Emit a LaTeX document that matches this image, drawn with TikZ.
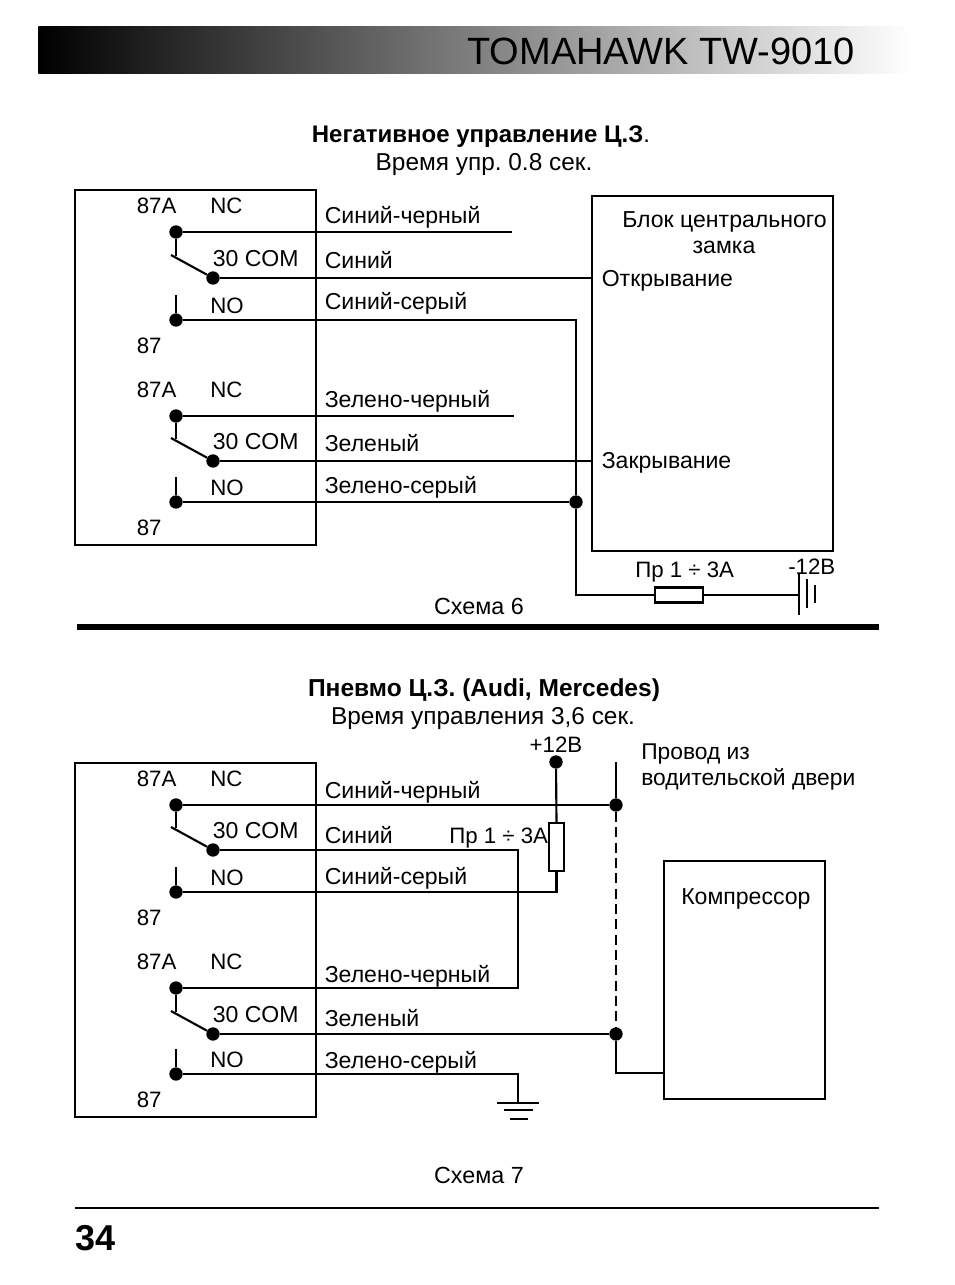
\documentclass[tikz,border=0pt]{standalone}
\usepackage{fontspec}
\setmainfont{Liberation Sans}
\frenchspacing
\begin{document}
\begin{tikzpicture}[x=0.75pt,y=-0.75pt,line cap=butt,
  wire/.style={line width=1.6pt},
  thin wire/.style={line width=1.1pt},
  box/.style={draw,line width=1.6pt,rectangle,inner sep=0pt},
  dot/.style={circle,fill=black,draw=none,minimum size=10pt,inner sep=0pt},
  lbl/.style={anchor=base west,inner sep=0pt,font=\fontsize{17.3pt}{18pt}\selectfont},
  pin/.style={anchor=base west,inner sep=0pt,font=\fontsize{16.7pt}{18pt}\selectfont},
  clbl/.style={anchor=base,inner sep=0pt,font=\fontsize{17.5pt}{18pt}\selectfont},
  hlbl/.style={anchor=base,inner sep=0pt,font=\fontsize{18.3pt}{18pt}\selectfont},
  blbl/.style={anchor=base,inner sep=0pt,font=\fontsize{18pt}{18pt}\selectfont\bfseries},
  blblb/.style={anchor=base,inner sep=0pt,font=\fontsize{18.4pt}{18pt}\selectfont\bfseries}]
\useasboundingbox (0,0) rectangle (954,1285);
\fill[white] (0,0) rectangle (954,1285);
% header
\node[rectangle,minimum width=655.5pt,minimum height=35.25pt,inner sep=0pt,left color=black,right color=white,anchor=north west] (bar) at (38,26) {};
\node[anchor=base west,inner sep=0pt,font=\fontsize{28.5pt}{30pt}\selectfont] (title) at (467,64) {TOMAHAWK TW-9010};
% headings
\node[blbl] (h1) at (481,142) {Негативное управление Ц.З\textmd{.}};
\node[hlbl] (h1b) at (484,170) {Время упр. 0.8 сек.};
\node[clbl] (cap6) at (479,614) {Схема 6};
\coordinate (r1a) at (77,627); \coordinate (r1b) at (879,627);
\draw[line width=3.8pt] (r1a) -- (r1b);
\node[blblb] (h2) at (484,696) {Пневмо Ц.З. (Audi, Mercedes)};
\node[hlbl] (h2b) at (483,724) {Время управления 3,6 сек.};
\node[clbl] (cap7) at (479,1183) {Схема 7};
\coordinate (r2a) at (75,1208); \coordinate (r2b) at (879,1208);
\draw[line width=1.6pt] (r2a) -- (r2b);
\node[anchor=base west,inner sep=0pt,font=\fontsize{27pt}{30pt}\selectfont\bfseries] (page) at (75,1250) {34};
% relay boxes
\draw[wire] (75,190) rectangle (316,545);
\draw[wire] (75,763) rectangle (316,1117);
% relay contact groups: name, y of NC dot, COM dot, NO dot
\newcommand{\contact}[4]{%
  \node[dot] (#1nc) at (176,#2) {};
  \node[dot] (#1com) at (213,#3) {};
  \node[dot] (#1no) at (176,#4) {};
  \coordinate (#1arm) at (176,#3-22);
  \coordinate (#1pivot) at (171,#3-23);
  \coordinate (#1notop) at (176,#4-25);
  \draw[wire] (#1nc) -- (#1arm);
  \draw[wire] (#1pivot) -- (#1com);
  \draw[wire] (#1notop) -- (#1no);
  \node[pin] (#1l1) at (136.5,#2-19) {87A};
  \node[pin] (#1l2) at (210,#2-19) {NC};
  \node[lbl] (#1l3) at (212.5,#3-12) {30 COM};
  \node[pin] (#1l4) at (210,#4-6.5) {NO};
  \node[pin] (#1l5) at (136.5,#4+33) {87};
}
\contact{a}{232}{278}{320}
\contact{b}{416}{461}{502}
\contact{c}{805}{850}{892}
\contact{d}{988}{1034}{1074}
% wire labels
\node[lbl] at (324.5,223) {Синий-черный};
\node[lbl] at (324.5,268) {Синий};
\node[lbl] at (324.5,309) {Синий-серый};
\node[lbl] at (324.5,407) {Зелено-черный};
\node[lbl] at (324.5,451) {Зеленый};
\node[lbl] at (324.5,493) {Зелено-серый};
\node[lbl] at (324.5,798) {Синий-черный};
\node[lbl] at (324.5,843) {Синий};
\node[lbl] at (324.5,884) {Синий-серый};
\node[lbl] at (324.5,982) {Зелено-черный};
\node[lbl] at (324.5,1026) {Зеленый};
\node[lbl] at (324.5,1068) {Зелено-серый};
% central lock block
\draw[wire] (592,196) rectangle (833,551);
\node[anchor=base,inner sep=0pt,font=\fontsize{17.3pt}{18pt}\selectfont] (cl1) at (724.5,227) {Блок центрального};
\node[anchor=base,inner sep=0pt,font=\fontsize{17.3pt}{18pt}\selectfont] (cl2) at (724,253) {замка};
\node[lbl] (open) at (601.5,286) {Открывание};
\node[lbl] (close) at (601.5,468) {Закрывание};
\coordinate (aend) at (512,232);
\coordinate (bend) at (514,416);
\coordinate (lockopen) at (592,278);
\coordinate (lockclose) at (592,461);
\draw[wire] (anc) -- (aend);
\draw[wire] (bnc) -- (bend);
\draw[wire] (acom) -- (lockopen);
\draw[wire] (bcom) -- (lockclose);
\node[dot] (j1) at (576,502) {};
\draw[wire] (bno) -- (j1);
% fuse and battery
\node[box,fill=white,minimum width=36pt,minimum height=11.2pt,anchor=center] (f1) at (679,595) {};
\coordinate (bat) at (799,595);
\draw[wire] (ano) -| (j1) |- (f1.west);
\draw[wire] (f1.east) -- (bat);
\draw[wire] (799,574) -- (799,615);
\draw[thin wire] (807,579) -- (807,608);
\draw[wire] (815,585) -- (815,603);
\node[pin] (f1l) at (635,577) {Пр 1 ÷ 3А};
\node[pin] (bl) at (788,574) {-12В};
% pneumatic part
\node[dot] (p12) at (556,762) {};
\node[anchor=base,inner sep=0pt,font=\fontsize{16.7pt}{18pt}\selectfont] (p12l) at (556,752) {+12В};
\node[anchor=base west,inner sep=0pt,font=\fontsize{17.1pt}{18pt}\selectfont] at (641,759) {Провод из};
\node[anchor=base west,inner sep=0pt,font=\fontsize{17.1pt}{18pt}\selectfont] at (641,785) {водительской двери};
\node[dot] (j2) at (616,805) {};
\node[dot] (j3) at (616,1034) {};
\coordinate (vtop) at (616,762);
\draw[wire] (vtop) -- (j2);
\draw[wire] (cnc) -- (j2);
\draw[wire,dash pattern=on 7.5pt off 4pt] (j2) -- (j3);
\draw[wire] (dcom) -- (j3);
\node[box,fill=white,minimum width=11.2pt,minimum height=36pt] (f2) at (556.5,847) {};
\draw[wire] (p12) -- (f2.north);
\draw[wire] (f2.south) -- (f2.south |- cno) -- (cno);
\node[pin] (f2l) at (449,843) {Пр 1 ÷ 3А};
\draw[wire] (ccom) -| (518,988) -- (dnc);
\node[box,minimum width=120.5pt,minimum height=178.5pt,anchor=north west] (comp) at (663,860) {};
\node[lbl] (compl) at (681,904) {Компрессор};
\coordinate (compin) at (663,1073);
\draw[wire] (j3) |- (compin);
\coordinate (gnd) at (518,1103);
\draw[wire] (dno) -| (gnd);
\draw[wire] (497,1103) -- (539,1103);
\draw[thin wire] (504,1110) -- (533,1110);
\draw[wire] (510,1119) -- (528,1119);
\end{tikzpicture}
\end{document}
